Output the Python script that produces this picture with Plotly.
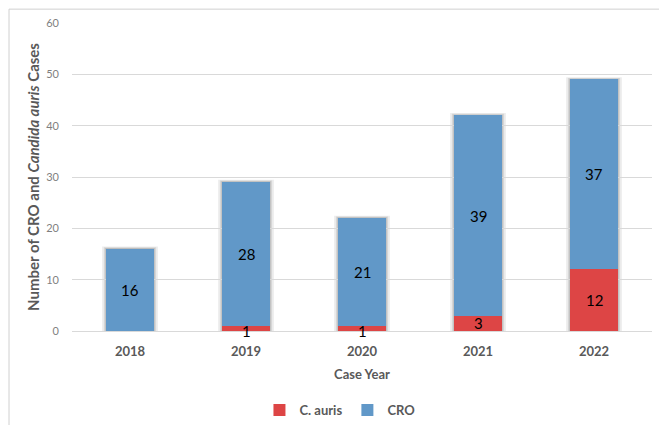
import plotly.graph_objects as go

years = ["2018", "2019", "2020", "2021", "2022"]
c_auris = [0, 1, 1, 3, 12]
cro = [16, 28, 21, 39, 37]

RED = "#DD4545"
BLUE = "#6198C8"
GRID = "#D9D9D9"
TXT = "#595959"
FONT = "Lato, 'Open Sans', sans-serif"
BAR_W = 0.41

fig = go.Figure()
fig.add_trace(go.Bar(x=years, y=c_auris, name="C. auris", marker=dict(color=RED, line=dict(width=0)),
                     width=BAR_W))
fig.add_trace(go.Bar(x=years, y=cro, name="CRO", marker=dict(color=BLUE, line=dict(width=0)),
                     width=BAR_W))

# soft drop shadow behind each stacked column
for i, (a, c) in enumerate(zip(c_auris, cro)):
    total = a + c
    for pad, dy, op in [(0.035, 0.45, 0.12), (0.02, 0.3, 0.18), (0.008, 0.15, 0.25)]:
        fig.add_shape(type="rect", xref="x", yref="y", layer="below",
                      x0=i - BAR_W / 2 - pad, x1=i + BAR_W / 2 + pad,
                      y0=0, y1=total + dy,
                      fillcolor="#6F6F6F", opacity=op, line=dict(width=0))

# value labels centred on each segment
for i, (a, c) in enumerate(zip(c_auris, cro)):
    if a > 0:
        fig.add_annotation(x=i, y=a / 2, text=str(a), showarrow=False,
                           yshift=-3 if a < 2 else 0,
                           font=dict(family=FONT, size=15, color="#000000"))
    fig.add_annotation(x=i, y=a + c / 2, text=str(c), showarrow=False,
                       font=dict(family=FONT, size=15, color="#000000"))

# chart frame
fig.add_shape(type="line", xref="paper", yref="paper", x0=-0.1086, x1=-0.1086, y0=1.045, y1=-0.32,
              line=dict(color="#D0D0D0", width=1))
fig.add_shape(type="line", xref="paper", yref="paper", x0=-0.1086, x1=1.02, y0=1.045, y1=1.045,
              line=dict(color="#D0D0D0", width=1))

fig.update_layout(
    barmode="stack",
    width=659, height=425,
    margin=dict(l=72, r=7, t=23, b=94, autoexpand=False),
    paper_bgcolor="white", plot_bgcolor="white",
    font=dict(family=FONT, color=TXT),
    showlegend=True,
    legend=dict(orientation="h", x=0.462, xanchor="center", yref="container", y=0.035,
                yanchor="middle",
                font=dict(family=FONT, size=13, color=TXT, weight="bold"), traceorder="normal",
                itemsizing="constant", itemwidth=30),
    xaxis=dict(type="category", showgrid=False, showline=True, linecolor=GRID, ticks="",
               automargin=False, ticklabelstandoff=8,
               tickfont=dict(family=FONT, size=13, color=TXT, weight="bold"),
               title=dict(text="Case Year", font=dict(family=FONT, size=13, color=TXT, weight="bold"),
                          standoff=12)),
    yaxis=dict(range=[0, 60], dtick=10, showgrid=True, gridcolor=GRID, gridwidth=1,
               zeroline=False, ticks="", ticklabelstandoff=12, automargin=False,
               tickfont=dict(family=FONT, size=11, color="#7F7F7F"),
               title=dict(text="Number of CRO and <i>Candida auris</i> Cases",
                          font=dict(family=FONT, size=15, color=TXT, weight="bold"),
                          standoff=2)),
)

fig.write_html("out.html")
